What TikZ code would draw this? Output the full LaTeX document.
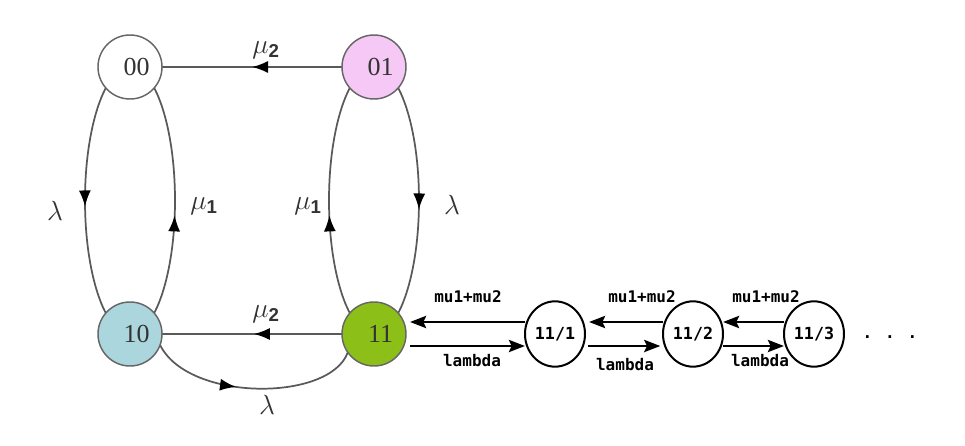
\documentclass[tikz,border=0pt]{standalone}
\usepackage{fontspec}
\setmainfont{Liberation Serif}
\setsansfont{Liberation Sans}
\newfontfamily\chainfont{DejaVu Sans Mono}
\usetikzlibrary{arrows.meta, decorations.markings, backgrounds, shapes.geometric}

\definecolor{pinkfill}{RGB}{246,200,246}
\definecolor{bluefill}{RGB}{172,214,222}
\definecolor{greenfill}{RGB}{140,192,24}
\newcommand\sfsub[1]{\hbox{\sffamily\bfseries\fontsize{14}{14}\selectfont #1}}

\begin{document}
\begin{tikzpicture}[
  x=0.75pt, y=-0.75pt,
  every node/.style={inner sep=1pt},
  state/.style={circle, draw=black!60, line width=1.1pt, fill=white,
    minimum size=48pt, inner sep=0pt, outer sep=0pt, text=black!80,
    font=\fontsize{19.5}{19.5}\selectfont, execute at begin node=\hspace*{10pt}},
  trans/.style={draw=black!65, line width=1.3pt},
  midarrow/.style={postaction={decorate}, decoration={markings,
    mark=at position #1 with {\arrow[black]{Latex[length=12pt, width=9pt]}}}},
  greek/.style={inner sep=0pt, text=black!80, font=\fontsize{20.74}{21}\selectfont},
  % the birth-death chain of the busy state 11
  phase/.style={ellipse, draw, line width=1.5pt, minimum width=45pt,
    minimum height=49pt, inner sep=0pt, outer sep=0pt,
    font=\chainfont\bfseries\fontsize{12.5}{12.5}\selectfont},
  flow/.style={draw, line width=2.2pt, -{Stealth[length=12pt, width=9pt, inset=2pt]}},
  rate/.style={inner sep=0pt, font=\chainfont\bfseries\fontsize{12}{12}\selectfont}]

  \useasboundingbox (0,0) rectangle (965,446);

  % vertices
  \node[state]                  (n00) at (130,67)  {00};
  \node[state, fill=pinkfill]   (n01) at (374,67)  {01};
  \node[state, fill=bluefill]   (n10) at (130,334) {10};
  \node[state, fill=greenfill]  (n11) at (374,334) {11};

  \node[phase] (c1) at (555,334) {11/1};
  \node[phase] (c2) at (693,334) {11/2};
  \node[phase] (c3) at (814,334) {11/3};
  \node[rate]  (dots) at (890,337) {. . .};

  % arrows
  \begin{scope}[on background layer]
    \draw[trans, midarrow=0.5]  (n01) -- (n00);
    \draw[trans, midarrow=0.49] (n11) -- (n10);
    \draw[trans, midarrow=0.52] (n00.center)
      arc[start angle=270, end angle=90, x radius=45, y radius=133.5];
    \draw[trans, midarrow=0.45] (n10.center)
      arc[start angle=90, end angle=-90, x radius=45, y radius=133.5];
    \draw[trans, midarrow=0.45] (n11.center)
      arc[start angle=90, end angle=270, x radius=45, y radius=133.5];
    \draw[trans, midarrow=0.53] (n01.center)
      arc[start angle=-90, end angle=90, x radius=45, y radius=133.5];
    \draw[trans, midarrow=0.42] (n10.-20) .. controls (188,402) and (330,402) .. (n11.215);
  \end{scope}

  \draw[flow] ([yshift=9pt]c1.west) -- ([xshift=3pt, yshift=9pt]n11.east);
  \draw[flow] ([xshift=3pt, yshift=-9pt]n11.east) -- ([yshift=-9pt]c1.west);
  \draw[flow] ([yshift=9pt]c2.west) -- ([xshift=3pt, yshift=9pt]c1.east);
  \draw[flow] ([xshift=2pt, yshift=-9pt]c1.east) -- ([xshift=-2pt, yshift=-9pt]c2.west);
  \draw[flow] ([yshift=9pt]c3.west) -- ([yshift=9pt]c2.east);
  \draw[flow] ([yshift=-9pt]c2.east) -- ([yshift=-9pt]c3.west);

  % labels printed inside the picture
  \node[greek] (mu2top)   at (266,50)  {$\mu_{\sfsub{2}}$};
  \node[greek] (mu2bot)   at (266,314) {$\mu_{\sfsub{2}}$};
  \node[greek] (lamleft)  at (55,211)  {$\lambda$};
  \node[greek] (mu1left)  at (204,206) {$\mu_{\sfsub{1}}$};
  \node[greek] (mu1right) at (308,206) {$\mu_{\sfsub{1}}$};
  \node[greek] (lamright) at (452,205) {$\lambda$};
  \node[greek] (lambot)   at (267,405) {$\lambda$};

  \node[rate] (r1mu)  at (468,297) {mu1+mu2};
  \node[rate] (r1lam) at (472,361) {lambda};
  \node[rate] (r2mu)  at (642,297) {mu1+mu2};
  \node[rate] (r2lam) at (625,365) {lambda};
  \node[rate] (r3mu)  at (766,297) {mu1+mu2};
  \node[rate] (r3lam) at (760,361) {lambda};
\end{tikzpicture}
\end{document}
